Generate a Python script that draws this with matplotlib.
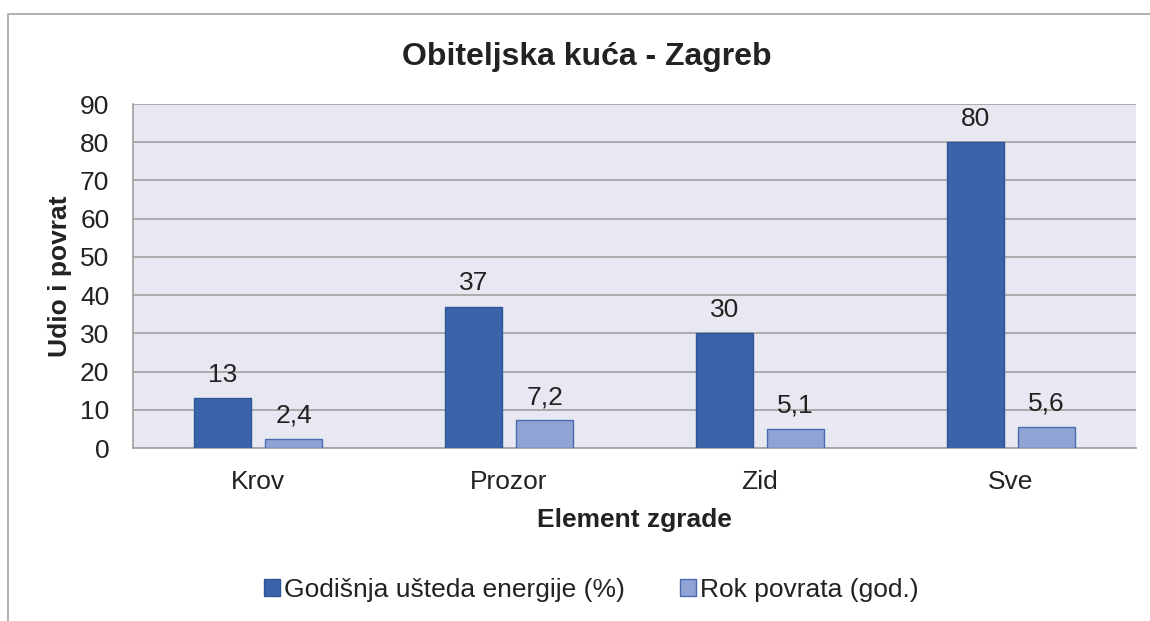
import numpy as np
import matplotlib
matplotlib.use('Agg')
import matplotlib.pyplot as plt
from matplotlib.patches import Patch
from matplotlib.lines import Line2D

plt.rcParams['font.family'] = ['Liberation Sans', 'DejaVu Sans']

# podaci
categories = ['Krov', 'Prozor', 'Zid', 'Sve']
savings = [13, 37, 30, 80]          # Godišnja ušteda energije (%)
payback = [2.4, 7.2, 5.1, 5.6]      # Rok povrata (god.)
series_names = ['Godišnja ušteda energije (%)', 'Rok povrata (god.)']
yticks = [0, 10, 20, 30, 40, 50, 60, 70, 80, 90]

textCol = '#222222'
gridCol = '#A6A6A6'
darkCol, darkEdge = '#3B63A9', '#2E5596'
lightCol, lightEdge = '#8FA3D4', '#4A6AAE'
fs = 19


def fmt(v):
    # decimalni zarez kao u originalu
    if float(v).is_integer():
        return str(int(v))
    return ('%.1f' % v).replace('.', ',')


fig = plt.figure(figsize=(11.5, 6.21), dpi=100)
ax = fig.add_axes([133 / 1150, 1 - 448 / 621, (1136 - 133) / 1150, (448 - 104) / 621])
ax.set_facecolor('#E8E8F2')

x = np.arange(len(categories))
w = 0.227
off = w / 2 + 0.028
b1 = ax.bar(x - off, savings, w, color=darkCol, edgecolor=darkEdge, linewidth=1, zorder=3)
b2 = ax.bar(x + off, payback, w, color=lightCol, edgecolor=lightEdge, linewidth=1, zorder=3)

ax.bar_label(b1, labels=[fmt(v) for v in savings], padding=8, fontsize=fs, color=textCol)
ax.bar_label(b2, labels=[fmt(v) for v in payback], padding=8, fontsize=fs, color=textCol)

ax.set_xlim(-0.5, len(categories) - 0.5)
ax.set_ylim(0, 90)
ax.set_yticks(yticks)
ax.set_xticks(x)
ax.set_xticklabels(categories)
ax.tick_params(axis='both', length=0, labelsize=fs, labelcolor=textCol)
ax.tick_params(axis='y', pad=17)
ax.tick_params(axis='x', pad=16)
ax.yaxis.grid(True, color=gridCol, linewidth=1.3, zorder=0)
ax.set_axisbelow(True)

for s in ['top', 'right']:
    ax.spines[s].set_visible(False)
for s in ['left', 'bottom']:
    ax.spines[s].set_color(gridCol)
    ax.spines[s].set_linewidth(1.3)

ax.set_ylabel('Udio i povrat', fontsize=fs, fontweight='bold', color=textCol, labelpad=6)
ax.set_xlabel('Element zgrade', fontsize=fs, fontweight='bold', color=textCol, labelpad=10)

fig.text(587 / 1150, 1 - 57 / 621, 'Obiteljska kuća - Zagreb', ha='center', va='center',
         fontsize=23, fontweight='bold', color=textCol)

handles = [Patch(facecolor=darkCol, edgecolor=darkEdge), Patch(facecolor=lightCol, edgecolor=lightEdge)]
fig.legend(handles, series_names, loc='center', bbox_to_anchor=(591 / 1150, 1 - 590 / 621),
           ncol=2, frameon=False, fontsize=fs, handlelength=0.6, handleheight=0.6,
           handletextpad=0.15, columnspacing=2.1, labelcolor=textCol)

# okvir grafikona (odrezan desno i dolje)
fig.add_artist(Line2D([8 / 1150, 8 / 1150, 1], [0, 1 - 14 / 621, 1 - 14 / 621],
                      transform=fig.transFigure, color='#ABABAB', linewidth=1.3))

fig.savefig('out.png', dpi=100)
